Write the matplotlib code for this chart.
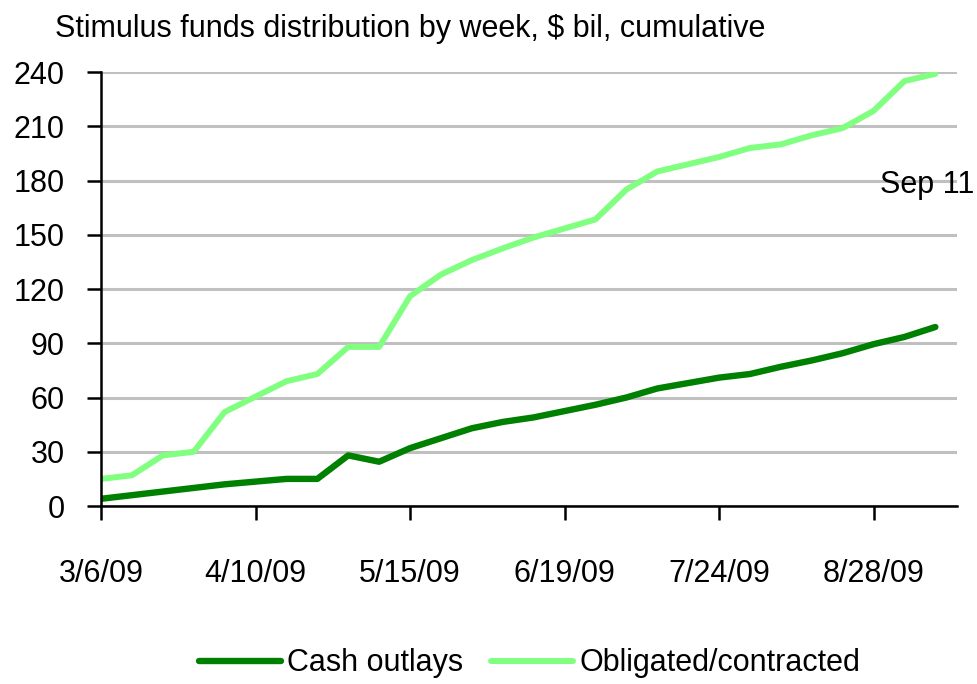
import matplotlib
matplotlib.use("Agg")
import matplotlib.pyplot as plt
import numpy as np
import pandas as pd

# =========================
# DATA (weekly, $ bil, cumulative)
# =========================
weeks = pd.date_range("2009-03-06", "2009-09-11", freq="7D")

cash_outlays = [4, 6, 8, 10, 12, 13.5, 15, 15, 28, 24.5,
                32, 37.5, 43, 46.5, 49, 52.5, 56, 60, 65, 68,
                71, 73, 77, 80.5, 84.5, 89.5, 93.5, 99]

obligated = [15, 17, 28, 30, 52, 60.5, 69, 73, 88, 88,
             116, 128, 136, 142.5, 148.5, 153.5, 158.5, 175, 185, 189,
             193, 198, 200, 205, 209, 218.5, 235, 239]

tick_labels = ["3/6/09", "4/10/09", "5/15/09", "6/19/09", "7/24/09", "8/28/09"]
y_ticks = [0, 30, 60, 90, 120, 150, 180, 210, 240]

plt.rcParams['font.family'] = ['Liberation Sans Narrow', 'Liberation Sans', 'DejaVu Sans']

# =========================
# PLOT
# =========================
fig = plt.figure(figsize=(9.77, 6.84), dpi=100)
ax = fig.add_axes([0.1034, 0.2602, 0.8761, 0.6345])

x = np.arange(len(weeks))
ax.plot(x, cash_outlays, color="#008000", lw=4.6, solid_capstyle="round",
        label="Cash outlays", zorder=3)
ax.plot(x, obligated, color="#80FF80", lw=4.3, solid_capstyle="round",
        label="Obligated/contracted", zorder=3)

ax.set_ylim(0, 240)
ax.set_xlim(0, 27.7)
ax.set_yticks(y_ticks)
ax.set_xticks(x[::5])
ax.set_xticklabels(tick_labels)

ax.grid(axis="y", color="#C0C0C0", lw=2.2, zorder=1)
ax.set_axisbelow(True)
for s in ["top", "right"]:
    ax.spines[s].set_visible(False)
for s in ["left", "bottom"]:
    ax.spines[s].set_linewidth(1.8)
    ax.spines[s].set_zorder(4)

ax.tick_params(axis="y", length=10, width=1.8, pad=16, labelsize=22)
ax.tick_params(axis="x", length=10, width=1.8, pad=28, labelsize=22)

fig.text(0.056, 0.958, "Stimulus funds distribution by week, $ bil, cumulative",
         fontsize=22, ha="left", va="center")
ax.text(25.2, 177.5, "Sep 11", fontsize=22, ha="left", va="center", clip_on=False)

fig.legend(loc="center", bbox_to_anchor=(0.542, 0.030), ncol=2, frameon=False,
           fontsize=22, handlelength=2.7, handletextpad=0.2, columnspacing=0.9)

plt.savefig("out.png", dpi=100)
